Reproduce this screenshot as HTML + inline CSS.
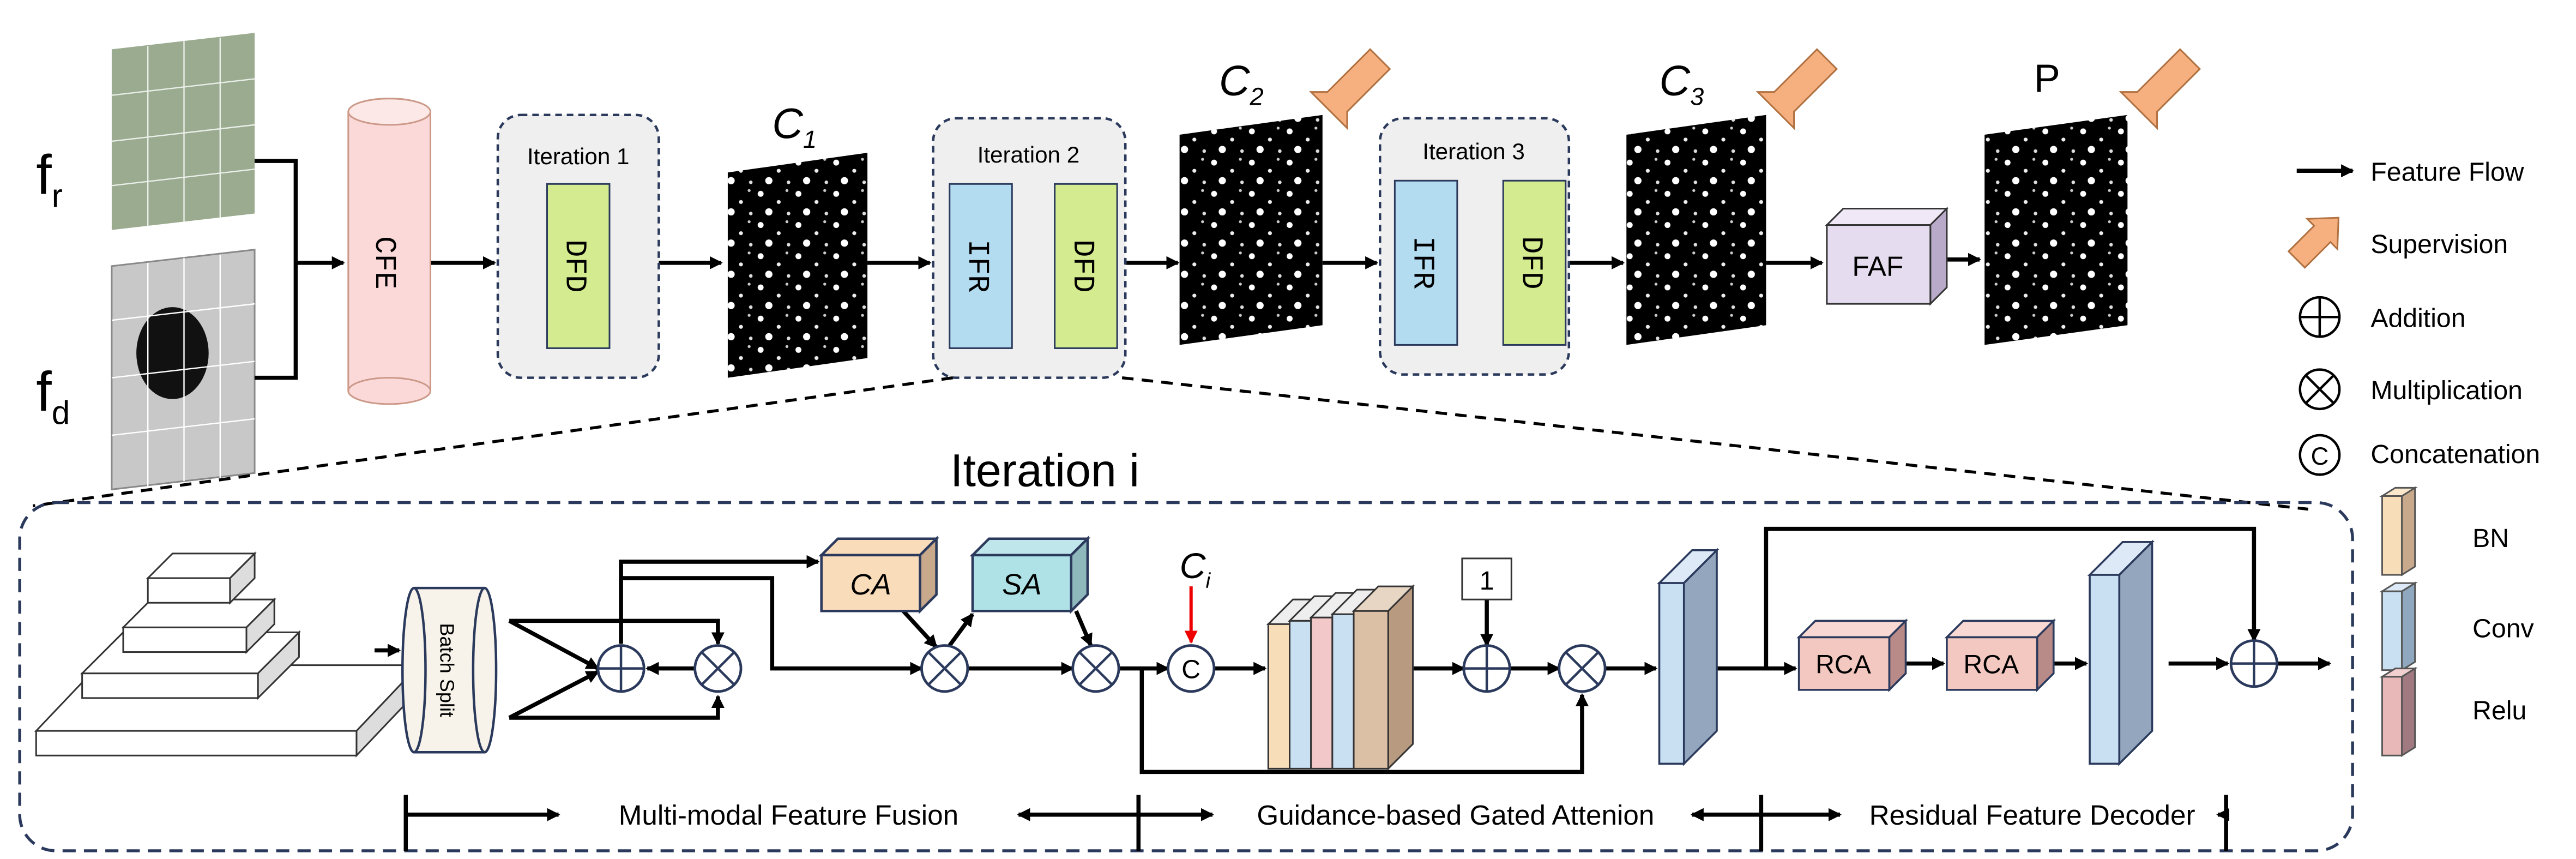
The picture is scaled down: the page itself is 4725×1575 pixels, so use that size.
<!DOCTYPE html>
<html><head><meta charset="utf-8"><style>html,body{margin:0;padding:0;background:#fff}svg{display:block}</style></head><body>
<svg width="4725" height="1575" viewBox="0 0 1568 523" preserveAspectRatio="none" xmlns="http://www.w3.org/2000/svg" font-family="Liberation Sans, sans-serif">
<defs>
<marker id="ah" markerWidth="8" markerHeight="8" refX="7" refY="4" orient="auto" markerUnits="userSpaceOnUse"><path d="M0,0 L8,4 L0,8 z" fill="#000"/></marker>
<marker id="ar" markerWidth="8" markerHeight="8" refX="7" refY="4" orient="auto" markerUnits="userSpaceOnUse"><path d="M0,0 L8,4 L0,8 z" fill="#e00"/></marker>
<pattern id="dots" width="23" height="19" patternUnits="userSpaceOnUse"><rect width="23" height="19" fill="#000"/><circle cx="3" cy="4" r="1.8" fill="#fff"/><circle cx="14" cy="9" r="1.2" fill="#eee"/><circle cx="8" cy="15" r="2.2" fill="#fff"/><circle cx="19" cy="2" r="0.9" fill="#ccc"/><circle cx="20" cy="16" r="1.1" fill="#ddd"/></pattern>
<g id="orange"><path d="M0,0 L-14,-14 L-4,-14 L22,-40 L34,-28 L8,-2 L8,8 z" fill="#f6b07f" stroke="#b07040" stroke-width="1"/></g>
</defs>
<polygon points="68,30 155,20 155,130 68,140" fill="#9aab90"/>
<g stroke="#fff" stroke-width="0.8" opacity="0.8"><line x1="90" y1="28" x2="90" y2="138"/><line x1="112" y1="25" x2="112" y2="135"/><line x1="134" y1="23" x2="134" y2="133"/><line x1="68" y1="58" x2="155" y2="48"/><line x1="68" y1="86" x2="155" y2="76"/><line x1="68" y1="113" x2="155" y2="103"/></g>
<polygon points="68,162 155,152 155,288 68,298" fill="#c8c8c8" stroke="#888"/>
<ellipse cx="105" cy="215" rx="22" ry="28" fill="#111"/>
<g stroke="#fff" stroke-width="0.8"><line x1="90" y1="160" x2="90" y2="296"/><line x1="112" y1="157" x2="112" y2="293"/><line x1="134" y1="155" x2="134" y2="291"/><line x1="68" y1="195" x2="155" y2="185"/><line x1="68" y1="230" x2="155" y2="220"/><line x1="68" y1="265" x2="155" y2="255"/></g>
<text x="22" y="118" font-size="34">f<tspan font-size="20" dy="8">r</tspan></text>
<text x="22" y="250" font-size="34">f<tspan font-size="20" dy="8">d</tspan></text>
<g stroke="#000" stroke-width="2.5" fill="none">
<polyline points="155,98 180,98 180,230 155,230"/>
<line x1="180" y1="160" x2="209" y2="160" marker-end="url(#ah)"/>
<line x1="262" y1="160" x2="301" y2="160" marker-end="url(#ah)"/>
<line x1="401" y1="160" x2="439" y2="160" marker-end="url(#ah)"/>
<line x1="528" y1="160" x2="566" y2="160" marker-end="url(#ah)"/>
<line x1="616" y1="160" x2="640" y2="160" marker-end="url(#ah)"/>
<line x1="685" y1="160" x2="717" y2="160" marker-end="url(#ah)"/>
<line x1="805" y1="160" x2="838" y2="160" marker-end="url(#ah)"/>
<line x1="887" y1="160" x2="913" y2="160" marker-end="url(#ah)"/>
<line x1="955" y1="160" x2="988" y2="160" marker-end="url(#ah)"/>
<line x1="1075" y1="160" x2="1109" y2="160" marker-end="url(#ah)"/>
<line x1="1185" y1="158" x2="1205" y2="158" marker-end="url(#ah)"/>
</g>
<rect x="212" y="68" width="50" height="170" fill="#fbd9d9" stroke="#c98" stroke-width="1"/>
<ellipse cx="237" cy="68" rx="25" ry="8" fill="#fde8e8" stroke="#c98"/>
<ellipse cx="237" cy="238" rx="25" ry="8" fill="#fbd9d9" stroke="#c98"/>
<text transform="translate(229,160) rotate(90)" text-anchor="middle" font-size="18" font-family="Liberation Mono, monospace">CFE</text>
<rect x="303" y="70" width="98" height="160" rx="14" fill="#efefef" stroke="#2b3a5c" stroke-dasharray="4,3" stroke-width="1.5"/>
<text x="352" y="100" font-size="14" text-anchor="middle">Iteration 1</text>
<rect x="333" y="112" width="38" height="100" fill="#d4ec8f" stroke="#2b3a5c"/>
<text transform="translate(345,162) rotate(90)" text-anchor="middle" font-size="18" font-family="Liberation Mono, monospace">DFD</text>
<rect x="568" y="72" width="117" height="158" rx="14" fill="#efefef" stroke="#2b3a5c" stroke-dasharray="4,3" stroke-width="1.5"/>
<text x="626" y="99" font-size="14" text-anchor="middle">Iteration 2</text>
<rect x="578" y="112" width="38" height="100" fill="#b3dcf1" stroke="#2b3a5c"/>
<text transform="translate(590,162) rotate(90)" text-anchor="middle" font-size="18" font-family="Liberation Mono, monospace">IFR</text>
<rect x="642" y="112" width="38" height="100" fill="#d4ec8f" stroke="#2b3a5c"/>
<text transform="translate(654,162) rotate(90)" text-anchor="middle" font-size="18" font-family="Liberation Mono, monospace">DFD</text>
<rect x="840" y="72" width="115" height="156" rx="14" fill="#efefef" stroke="#2b3a5c" stroke-dasharray="4,3" stroke-width="1.5"/>
<text x="897" y="97" font-size="14" text-anchor="middle">Iteration 3</text>
<rect x="849" y="110" width="38" height="100" fill="#b3dcf1" stroke="#2b3a5c"/>
<text transform="translate(861,160) rotate(90)" text-anchor="middle" font-size="18" font-family="Liberation Mono, monospace">IFR</text>
<rect x="915" y="110" width="38" height="100" fill="#d4ec8f" stroke="#2b3a5c"/>
<text transform="translate(927,160) rotate(90)" text-anchor="middle" font-size="18" font-family="Liberation Mono, monospace">DFD</text>
<polygon points="443,105 528,93 528,218 443,230" fill="url(#dots)"/>
<polygon points="718,82 805,70 805,198 718,210" fill="url(#dots)"/>
<polygon points="990,82 1075,70 1075,198 990,210" fill="url(#dots)"/>
<polygon points="1208,82 1295,70 1295,198 1208,210" fill="url(#dots)"/>
<text x="470" y="84" font-size="26" font-style="italic">C<tspan font-size="15" dy="6">1</tspan></text>
<text x="742" y="58" font-size="26" font-style="italic">C<tspan font-size="15" dy="6">2</tspan></text>
<text x="1010" y="58" font-size="26" font-style="italic">C<tspan font-size="15" dy="6">3</tspan></text>
<text x="1238" y="56" font-size="24">P</text>
<use href="#orange" x="812" y="70"/>
<use href="#orange" x="1084" y="70"/>
<use href="#orange" x="1305" y="70"/>
<polygon points="1112,137 1122,127 1185,127 1175,137" fill="#f0e8f6" stroke="#333"/>
<polygon points="1175,137 1185,127 1185,175 1175,185" fill="#b8aac8" stroke="#333"/>
<rect x="1112" y="137" width="63" height="48" fill="#e6dcef" stroke="#333"/>
<text x="1143" y="168" font-size="17" text-anchor="middle">FAF</text>
<line x1="1398" y1="104" x2="1432" y2="104" stroke="#000" stroke-width="2.5" marker-end="url(#ah)"/>
<text x="1443" y="110" font-size="16">Feature Flow</text>
<g transform="translate(1398,158) rotate(-45)"><path d="M0,-7 L22,-7 L22,-13 L36,0 L22,13 L22,7 L0,7 z" fill="#f6b07f" stroke="#b07040"/></g>
<text x="1443" y="154" font-size="16">Supervision</text>
<g stroke="#000" stroke-width="1.5" fill="none">
<circle cx="1412" cy="193" r="12"/><line x1="1400" y1="193" x2="1424" y2="193"/><line x1="1412" y1="181" x2="1412" y2="205"/>
<circle cx="1412" cy="237" r="12"/><line x1="1403.5" y1="228.5" x2="1420.5" y2="245.5"/><line x1="1420.5" y1="228.5" x2="1403.5" y2="245.5"/>
<circle cx="1412" cy="277" r="12"/>
</g>
<text x="1412" y="283" font-size="15" text-anchor="middle">C</text>
<text x="1443" y="199" font-size="16">Addition</text>
<text x="1443" y="243" font-size="16">Multiplication</text>
<text x="1443" y="282" font-size="16">Concatenation</text>
<g stroke="#555" stroke-width="1">
<polygon points="1462,302 1470,297 1470,345 1462,350" fill="#c9a98b"/><rect x="1450" y="302" width="12" height="48" fill="#f7ddb8"/><polygon points="1450,302 1458,297 1470,297 1462,302" fill="#fbe8cc"/>
<polygon points="1462,360 1470,355 1470,403 1462,408" fill="#8fa8c0"/><rect x="1450" y="360" width="12" height="48" fill="#c9dff2"/><polygon points="1450,360 1458,355 1470,355 1462,360" fill="#dde9f6"/>
<polygon points="1462,412 1470,407 1470,455 1462,460" fill="#a07a80"/><rect x="1450" y="412" width="12" height="48" fill="#e8b8b8"/><polygon points="1450,412 1458,407 1470,407 1462,412" fill="#f3d0d0"/>
</g>
<text x="1505" y="333" font-size="16">BN</text>
<text x="1505" y="388" font-size="16">Conv</text>
<text x="1505" y="438" font-size="16">Relu</text>
<g stroke="#000" stroke-dasharray="7,5" stroke-width="1.8" fill="none">
<line x1="580" y1="230" x2="20" y2="308"/>
<line x1="683" y1="230" x2="1405" y2="310"/>
</g>
<rect x="12" y="306" width="1420" height="212" rx="22" fill="none" stroke="#2b3a5c" stroke-dasharray="8,5" stroke-width="1.8"/>
<text x="636" y="296" font-size="28" text-anchor="middle">Iteration i</text>
<g stroke="#333" stroke-width="1">
<polygon points="22,445 60,405 255,405 217,445" fill="#fff"/><polygon points="217,445 255,405 255,420 217,460" fill="#ddd"/><rect x="22" y="445" width="195" height="15" fill="#fff"/>
<polygon points="50,410 75,385 182,385 157,410" fill="#fff"/><polygon points="157,410 182,385 182,400 157,425" fill="#ddd"/><rect x="50" y="410" width="107" height="15" fill="#fff"/>
<polygon points="75,382 92,365 167,365 150,382" fill="#fff"/><polygon points="150,382 167,365 167,380 150,397" fill="#ddd"/><rect x="75" y="382" width="75" height="15" fill="#fff"/>
<polygon points="90,352 105,337 155,337 140,352" fill="#fff"/><polygon points="140,352 155,337 155,352 140,367" fill="#ddd"/><rect x="90" y="352" width="50" height="15" fill="#fff"/>
</g>
<rect x="252" y="358" width="43" height="100" fill="#f7f3ea"/>
<ellipse cx="252" cy="408" rx="7" ry="50" fill="#f7f3ea" stroke="#2b3a5c" stroke-width="1.5"/>
<ellipse cx="295" cy="408" rx="7" ry="50" fill="#f7f3ea" stroke="#2b3a5c" stroke-width="1.5"/>
<line x1="252" y1="358" x2="295" y2="358" stroke="#2b3a5c" stroke-width="1.5"/><line x1="252" y1="458" x2="295" y2="458" stroke="#2b3a5c" stroke-width="1.5"/>
<text transform="translate(268,408) rotate(90)" text-anchor="middle" font-size="12">Batch Split</text>
<g stroke="#000" stroke-width="2.5" fill="none">
<line x1="228" y1="396" x2="243" y2="396" marker-end="url(#ah)"/>
<line x1="310" y1="378" x2="364" y2="407" marker-end="url(#ah)"/>
<line x1="310" y1="437" x2="364" y2="409" marker-end="url(#ah)"/>
<polyline points="310,378 437,378 437,392" marker-end="url(#ah)"/>
<polyline points="310,437 437,437 437,424" marker-end="url(#ah)"/>
<line x1="423" y1="407" x2="394" y2="407" marker-end="url(#ah)"/>
<polyline points="378,392 378,342 498,342" marker-end="url(#ah)"/>
<polyline points="378,352 470,352 470,407 561,407" marker-end="url(#ah)"/>
<line x1="548" y1="370" x2="570" y2="394" marker-end="url(#ah)"/>
<line x1="578" y1="393" x2="592" y2="374" marker-end="url(#ah)"/>
<line x1="589" y1="407" x2="653" y2="407" marker-end="url(#ah)"/>
<line x1="655" y1="372" x2="664" y2="393" marker-end="url(#ah)"/>
<line x1="681" y1="407" x2="711" y2="407" marker-end="url(#ah)"/>
<polyline points="695,407 695,470 963,470 963,423" marker-end="url(#ah)"/>
<line x1="739" y1="407" x2="770" y2="407" marker-end="url(#ah)"/>
<line x1="860" y1="407" x2="891" y2="407" marker-end="url(#ah)"/>
<line x1="905" y1="365" x2="905" y2="393" marker-end="url(#ah)"/>
<line x1="919" y1="407" x2="949" y2="407" marker-end="url(#ah)"/>
<line x1="977" y1="407" x2="1008" y2="407" marker-end="url(#ah)"/>
<line x1="1045" y1="407" x2="1093" y2="407" marker-end="url(#ah)"/>
<line x1="1160" y1="404" x2="1183" y2="404" marker-end="url(#ah)"/>
<line x1="1250" y1="404" x2="1270" y2="404" marker-end="url(#ah)"/>
<line x1="1320" y1="404" x2="1356" y2="404" marker-end="url(#ah)"/>
<polyline points="1075,407 1075,322 1372,322 1372,390" marker-end="url(#ah)"/>
<line x1="1386" y1="404" x2="1418" y2="404" marker-end="url(#ah)"/>
</g>
<line x1="725" y1="357" x2="725" y2="391" stroke="#e00" stroke-width="2" marker-end="url(#ar)"/>
<text x="718" y="352" font-size="22" font-style="italic">C<tspan font-size="13" dy="6">i</tspan></text>
<g stroke="#2b3a5c" stroke-width="1.6" fill="#fff">
<circle cx="378" cy="407" r="14"/><circle cx="437" cy="407" r="14"/><circle cx="575" cy="407" r="14"/><circle cx="667" cy="407" r="14"/><circle cx="725" cy="407" r="14"/><circle cx="905" cy="407" r="14"/><circle cx="963" cy="407" r="14"/><circle cx="1372" cy="404" r="14"/>
</g>
<g stroke="#2b3a5c" stroke-width="1.5">
<line x1="364" y1="407" x2="392" y2="407"/><line x1="378" y1="393" x2="378" y2="421"/>
<line x1="891" y1="407" x2="919" y2="407"/><line x1="905" y1="393" x2="905" y2="421"/>
<line x1="1358" y1="404" x2="1386" y2="404"/><line x1="1372" y1="390" x2="1372" y2="418"/>
<line x1="427" y1="397" x2="447" y2="417"/><line x1="447" y1="397" x2="427" y2="417"/>
<line x1="565" y1="397" x2="585" y2="417"/><line x1="585" y1="397" x2="565" y2="417"/>
<line x1="657" y1="397" x2="677" y2="417"/><line x1="677" y1="397" x2="657" y2="417"/>
<line x1="953" y1="397" x2="973" y2="417"/><line x1="973" y1="397" x2="953" y2="417"/>
</g>
<text x="725" y="413" font-size="16" text-anchor="middle">C</text>
<g stroke="#2b3a5c" stroke-width="1.5">
<polygon points="500,338 510,328 570,328 560,338" fill="#f9dcba"/><polygon points="560,338 570,328 570,362 560,372" fill="#c9a98b"/><rect x="500" y="338" width="60" height="34" fill="#f9dcba"/>
<polygon points="592,338 602,328 662,328 652,338" fill="#bfe6ea"/><polygon points="652,338 662,328 662,362 652,372" fill="#8fb8bc"/><rect x="592" y="338" width="60" height="34" fill="#aee2e6"/>
</g>
<text x="530" y="362" font-size="18" text-anchor="middle" font-style="italic">CA</text>
<text x="622" y="362" font-size="18" text-anchor="middle" font-style="italic">SA</text>
<g stroke="#333" stroke-width="1">
<polygon points="772,380 787,365 800,365 785,380" fill="#eee"/>
<rect x="772" y="380" width="15" height="88" fill="#f7ddb8"/>
<polygon points="785,378 800,363 813,363 798,378" fill="#eee"/><rect x="785" y="378" width="13" height="90" fill="#c9dff2"/>
<polygon points="798,376 813,361 826,361 811,376" fill="#eee"/><rect x="798" y="376" width="13" height="92" fill="#f3c8c8"/>
<polygon points="811,374 826,359 845,359 830,374" fill="#eee"/><rect x="811" y="374" width="13" height="94" fill="#c9dff2"/>
<polygon points="824,372 839,357 860,357 845,372" fill="#e8d6c4"/><polygon points="845,372 860,357 860,453 845,468" fill="#b89a80"/><rect x="824" y="372" width="21" height="96" fill="#dcc0a6"/>
</g>
<rect x="890" y="340" width="30" height="25" fill="#fff" stroke="#333"/>
<text x="905" y="359" font-size="16" text-anchor="middle">1</text>
<g stroke="#2b3a5c" stroke-width="1.2">
<polygon points="1010,355 1030,335 1045,335 1025,355" fill="#dde9f6"/><polygon points="1025,355 1045,335 1045,445 1025,465" fill="#93a6bd"/><rect x="1010" y="355" width="15" height="110" fill="#c9dff2"/>
<polygon points="1272,350 1292,330 1310,330 1290,350" fill="#dde9f6"/><polygon points="1290,350 1310,330 1310,445 1290,465" fill="#93a6bd"/><rect x="1272" y="350" width="18" height="115" fill="#c9dff2"/>
<polygon points="1095,388 1105,378 1160,378 1150,388" fill="#f7d8d2"/><polygon points="1150,388 1160,378 1160,410 1150,420" fill="#b88a88"/><rect x="1095" y="388" width="55" height="32" fill="#f3c8c0"/>
<polygon points="1185,388 1195,378 1250,378 1240,388" fill="#f7d8d2"/><polygon points="1240,388 1250,378 1250,410 1240,420" fill="#b88a88"/><rect x="1185" y="388" width="55" height="32" fill="#f3c8c0"/>
</g>
<text x="1122" y="410" font-size="16" text-anchor="middle">RCA</text>
<text x="1212" y="410" font-size="16" text-anchor="middle">RCA</text>
<g stroke="#000" stroke-width="2.5" fill="none">
<line x1="247" y1="484" x2="247" y2="518"/><line x1="693" y1="484" x2="693" y2="518"/><line x1="1072" y1="484" x2="1072" y2="518"/><line x1="1355" y1="484" x2="1355" y2="518"/>
<line x1="247" y1="496" x2="340" y2="496" marker-end="url(#ah)"/>
<line x1="693" y1="496" x2="620" y2="496" marker-end="url(#ah)"/>
<line x1="693" y1="496" x2="738" y2="496" marker-end="url(#ah)"/>
<line x1="1072" y1="496" x2="1030" y2="496" marker-end="url(#ah)"/>
<line x1="1072" y1="496" x2="1120" y2="496" marker-end="url(#ah)"/>
<line x1="1355" y1="496" x2="1350" y2="496" marker-end="url(#ah)"/>
</g>
<text x="480" y="502" font-size="17" text-anchor="middle">Multi-modal Feature Fusion</text>
<text x="886" y="502" font-size="17" text-anchor="middle">Guidance-based Gated Attenion</text>
<text x="1237" y="502" font-size="17" text-anchor="middle">Residual Feature Decoder</text>
</svg>
</body></html>
